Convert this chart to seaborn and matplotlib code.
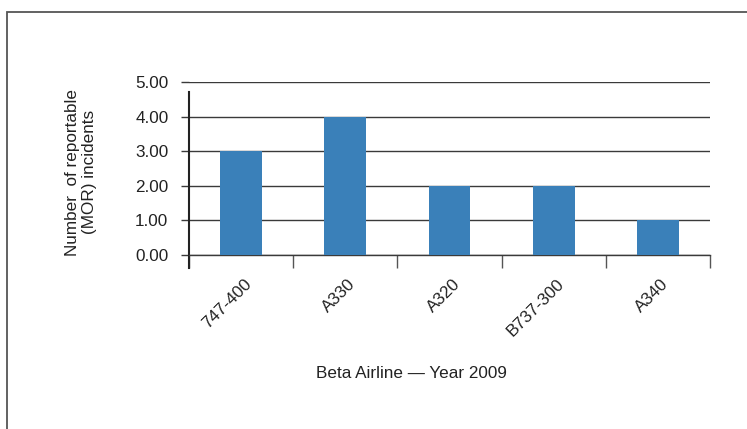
import matplotlib
matplotlib.use("Agg")
import matplotlib.pyplot as plt
import matplotlib.transforms as mtransforms
from matplotlib.patches import Rectangle
import seaborn as sns
import pandas as pd
import numpy as np

# ---- data ----
aircraft = ["747-400", "A330", "A320", "B737-300", "A340"]
incidents = [3, 4, 2, 2, 1]
y_ticks = [0, 1, 2, 3, 4, 5]
y_tick_labels = ["0.00", "1.00", "2.00", "3.00", "4.00", "5.00"]
x_title = "Beta Airline \u2014 Year 2009"
y_title = "Number  of reportable\n(MOR) incidents"

sns.set_style("white")
plt.rcParams["font.family"] = ["Liberation Sans", "DejaVu Sans"]
plt.rcParams["font.size"] = 12

TEXT = "#222222"
GRID = "#3a3a3a"
BAR = "#3A80B9"

df = pd.DataFrame({"aircraft": aircraft, "incidents": incidents})

fig = plt.figure(figsize=(7.47, 4.29), dpi=100)
ax = fig.add_axes([189 / 747, 1 - 255 / 429, (710 - 189) / 747, (255 - 82) / 429])

sns.barplot(data=df, x="aircraft", y="incidents", color=BAR, width=0.4,
            saturation=1, ax=ax, zorder=3, edgecolor=BAR, linewidth=0)

ax.set_ylim(0, 5)
ax.set_xlim(-0.5, len(aircraft) - 0.5)
ax.set_yticks(y_ticks)
ax.set_yticklabels(y_tick_labels, color=TEXT, fontsize=12.3)
ax.yaxis.grid(True, color=GRID, linewidth=1.0)
ax.set_axisbelow(True)
ax.tick_params(axis="y", length=5.8, width=1.0, color=GRID, pad=9, direction="out", left=True)

# x ticks: labels at centers, tick marks at boundaries
ax.set_xticks(range(len(aircraft)))
ax.set_xticklabels(aircraft, rotation=45, ha="right", va="center",
                   rotation_mode="anchor", color=TEXT, fontsize=12.3)
ax.tick_params(axis="x", which="major", length=0, pad=19)
ax.set_xticks(np.arange(-0.5, len(aircraft), 1.0), minor=True)
ax.tick_params(axis="x", which="minor", length=9.4, width=1.0, color="#555555",
               direction="out", bottom=True)
offset = mtransforms.ScaledTranslation(8 / 100, 0, fig.dpi_scale_trans)
for lbl in ax.get_xticklabels():
    lbl.set_transform(lbl.get_transform() + offset)

for s in ["top", "right"]:
    ax.spines[s].set_visible(False)
ax.spines["bottom"].set_visible(True)
ax.spines["bottom"].set_color(GRID)
ax.spines["bottom"].set_linewidth(1.0)
ax.spines["left"].set_visible(True)
ax.spines["left"].set_color("#222222")
ax.spines["left"].set_linewidth(1.5)
ax.spines["left"].set_bounds(-0.38, 4.72)

ax.set_xlabel("")
ax.set_ylabel("")

fig.text(411 / 747, 1 - 373 / 429, x_title, ha="center", va="center",
         color=TEXT, fontsize=12.3)
fig.text(81 / 747, 1 - 172 / 429, y_title, ha="center", va="center",
         rotation=90, color=TEXT, fontsize=12.3, linespacing=1.2)

# outer frame (cropped at right/bottom)
fig.add_artist(Rectangle((7 / 747, -0.1), 1.5, 1 - 12 / 429 + 0.1,
                         transform=fig.transFigure, fill=False,
                         edgecolor="#555555", linewidth=1.3))

fig.savefig("out.png", dpi=100)
